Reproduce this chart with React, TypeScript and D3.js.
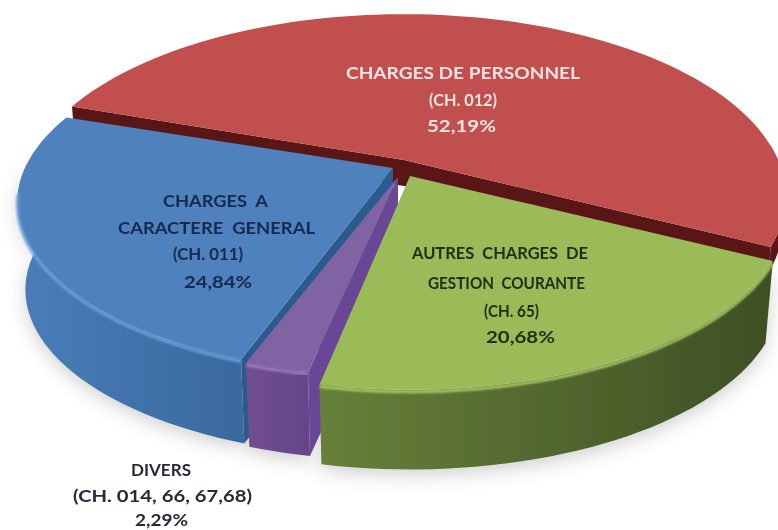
import React from "react";
import * as d3 from "d3";

const W = 778, H = 530;
const categories = ["CHARGES DE PERSONNEL", "AUTRES  CHARGES  DE", "DIVERS", "CHARGES  A"];
const chapters = ["(CH. 012)", "(CH. 65)", "(CH. 014, 66, 67,68)", "(CH. 011)"];
const values = [52.19, 20.68, 2.29, 24.84];
const valueLabels = ["52,19%", "20,68%", "2,29%", "24,84%"];

// perspective disc, per slice because the reference pie is unevenly exploded
const K = 0.2, DEPTH = 83;
const apex: [number, number][] = [[404, 160], [410, 176], [398, 177], [393, 168]];
const radX = [374, 370, 368, 368];
const radY = [175, 171, 160, 165];
const depths = [26, 84, 88, 88];
const topCol = ["#c0504d", "#9bbb59", "#8064a2", "#4f81bd"];
const wallCol = ["#5a1818", "#566a2e", "#6a4796", "#2c5a8e"];
const sideA = ["#5a1818", "#67803a", "#71508f", "#4a7db8"];
const sideB = ["#5a1818", "#3f4f24", "#644288", "#38699f"];
const hiCol = ["#c0504d", "#a9c966", "#a07dc0", "#69a0d8"];

const rad = (d: number) => (d * Math.PI) / 180;
const pie = d3.pie<number>().sort(null).startAngle(rad(-71)).endAngle(rad(289));
const arcs = pie(values);
const line = d3.line();

function proj(i: number, a: number, r = 1, z = 0): [number, number] {
  const s = 1 - 0.02 * (z / DEPTH);
  const u = r * Math.sin(a), v = r * Math.cos(a), w = 1 + K * v;
  return [apex[i][0] + (radX[i] * s * u) / w, apex[i][1] - (radY[i] * s * v) / w + z];
}
const sample = (a0: number, a1: number) => {
  const n = Math.max(4, Math.ceil(Math.abs(a1 - a0) / rad(2)));
  return d3.range(n + 1).map((j) => a0 + ((a1 - a0) * j) / n);
};

function topPath(i: number) {
  const { startAngle: a, endAngle: b } = arcs[i];
  return line([proj(i, 0, 0), ...sample(a, b).map((t) => proj(i, t))]) + "Z";
}
function sidePath(i: number) {
  const a = Math.max(arcs[i].startAngle, rad(85));
  const b = Math.min(arcs[i].endAngle, rad(272));
  if (b <= a) return "";
  const ts = sample(a, b);
  return line([...ts.map((t) => proj(i, t)), ...ts.slice().reverse().map((t) => proj(i, t, 1, depths[i]))]) + "Z";
}
function wallPath(i: number, t: number) {
  const d = depths[i];
  return line([proj(i, 0, 0), proj(i, t), proj(i, t, 1, d), proj(i, 0, 0, d)]) + "Z";
}
function rimHighlight(i: number) {
  const a = Math.max(arcs[i].startAngle, rad(92));
  const b = Math.min(arcs[i].endAngle, rad(262));
  return line(sample(a, b).map((t) => proj(i, t, 1, 2))) || "";
}

const order = [0, 3, 2, 1];

const labelText = [
  [categories[0], chapters[0], valueLabels[0]],
  ["CHARGES  A", "CARACTERE  GENERAL", chapters[3], valueLabels[3]],
  [categories[1], "GESTION  COURANTE", chapters[1], valueLabels[1]],
  [categories[2], chapters[2], valueLabels[2]],
];
const labelX = [[346, 429, 427], [163, 118, 173, 184], [412, 428, 484, 486], [131, 73, 135]];
const labelW = [[234, 68, 69], [105, 197, 70, 68], [176, 157, 55, 69], [60, 179, 53]];
const labelY = [[79, 106, 132], [207, 234, 260, 288], [259, 289, 317, 343], [476, 502, 526]];
const labelFill = ["#f7e4e2", "#14294f", "#1c2f12", "#262b38"];

export default function App() {
  return (
    <svg width={W} height={H} viewBox={`0 0 ${W} ${H}`} style={{ position: "fixed", left: 0, top: 0, background: "#fff" }}>
      <defs>
        <filter id="shadow" x="-20%" y="-20%" width="140%" height="140%">
          <feGaussianBlur stdDeviation="9" />
        </filter>
        <filter id="soft" x="-5%" y="-5%" width="110%" height="110%">
          <feGaussianBlur stdDeviation="0.6" />
        </filter>
        <filter id="hi" x="-10%" y="-10%" width="120%" height="120%">
          <feGaussianBlur stdDeviation="1.2" />
        </filter>
        <filter id="txt" x="-5%" y="-20%" width="110%" height="140%">
          <feGaussianBlur stdDeviation="0.3" />
        </filter>
        {sideA.map((c, i) => (
          <linearGradient key={i} id={`side${i}`} gradientUnits="userSpaceOnUse"
            x1={i === 1 ? 320 : i === 3 ? 20 : 245} y1="0" x2={i === 1 ? 770 : i === 3 ? 245 : 320} y2="0">
            <stop offset="0" stopColor={c} />
            <stop offset="1" stopColor={sideB[i]} />
          </linearGradient>
        ))}
      </defs>
      <g filter="url(#shadow)" opacity="0.3">
        {[3, 2, 1].map((i) => (
          <path key={i} d={sidePath(i)} fill="#6a6a6a" transform="translate(0,6)" />
        ))}
      </g>
      <g filter="url(#soft)">
        {order.map((i) => {
          const a = arcs[i];
          return (
            <g key={i}>
              {i === 0 && <path d={wallPath(0, a.startAngle)} fill={wallCol[0]} />}
              {i === 0 && <path d={wallPath(0, a.endAngle)} fill={wallCol[0]} />}
              {i === 3 && <path d={wallPath(3, a.startAngle)} fill={wallCol[3]} />}
              {i === 2 && <path d={wallPath(2, a.startAngle)} fill={wallCol[2]} />}
              <path d={sidePath(i)} fill={`url(#side${i})`} />
              <path d={topPath(i)} fill={topCol[i]} />
              {i !== 0 && <path d={rimHighlight(i)} fill="none" stroke={hiCol[i]} strokeWidth={3} filter="url(#hi)" />}
            </g>
          );
        })}
      </g>
      <g filter="url(#txt)">
        {labelText.map((lines, b) =>
          lines.map((t, j) => (
            <text key={b + "-" + j} x={labelX[b][j]} y={labelY[b][j]} textLength={labelW[b][j]}
              lengthAdjust="spacingAndGlyphs" xmlSpace="preserve"
              fontFamily="Lato, 'Open Sans', sans-serif" fontWeight={700} fontSize={17} fill={labelFill[b]}>
              {t}
            </text>
          ))
        )}
      </g>
    </svg>
  );
}
